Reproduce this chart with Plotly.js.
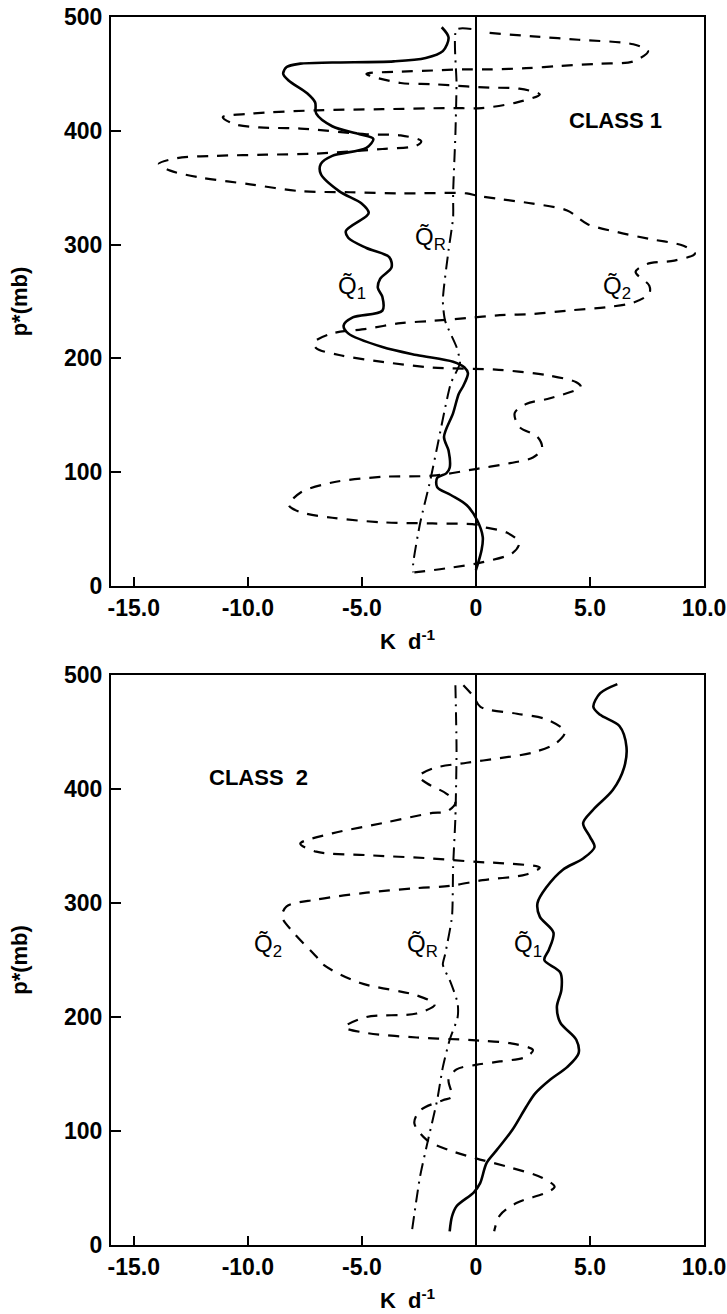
<!DOCTYPE html>
<html>
<head>
<meta charset="utf-8">
<script src="https://cdn.plot.ly/plotly-3.0.1.min.js"></script>
<style>html,body{margin:0;padding:0;background:#fff;}#chart{width:727px;height:1314px;}</style>
</head>
<body>
<div id="chart"></div>
<script>
// ---------- Data (pressure p* in mb, heating in K/day) ----------
// CLASS 1
const c1_q1_p = [491,482,470,464,461,460,459,456,450,444,433,425,415,404,397,393,385,378,371,362,347,336,328,325,312,306,297,289,280,270,262,254,242,236,229,222,210,203,197,192,187,176,169,152,131,119,104,99,95,87,80,71,58,43,32,14];
const c1_q1_v = [-1.5,-1.2,-1.45,-2.2,-3.6,-6.3,-7.7,-8.3,-8.45,-8.2,-7.4,-7.05,-7.0,-6.3,-5.1,-4.5,-4.8,-6.3,-6.8,-6.8,-6.0,-5.0,-4.7,-4.8,-5.7,-5.6,-4.8,-3.8,-3.7,-4.2,-4.3,-4.1,-4.1,-5.4,-5.8,-5.6,-4.1,-2.6,-1.0,-0.5,-0.35,-0.55,-0.75,-1.0,-1.4,-1.2,-1.15,-1.3,-1.7,-1.7,-1.1,-0.4,0.05,0.3,0.25,0];

const c1_q2_p = [486,483,480,476,470,461,459,457,455,454,454,453,452,450,442,441,439,438,437,432,425,420,420,419,418,415,412,406,403,402,397,396,391,387,384,380,379,378,376,371,365,359,353,347,346,345,345,343,340,336,330,318,311,305,299,292,286,283,276,264,257,249,245,242,239,238,236,233,231,226,222,214,209,203,197,192,190,185,179,175,165,160,152,140,131,121,113,108,103,97,96,91,82,71,65,60,56,55,54,52,47,38,29,21,16,12];
const c1_q2_v = [0.6,2.5,4.5,6.9,7.55,6.9,5.4,3.7,2.2,0.6,-0.55,-1.9,-3.3,-4.8,-3.3,-1.9,-0.4,0.6,1.9,2.8,1.8,0.25,-1.15,-4.1,-7.0,-9.9,-11.1,-10.6,-9.5,-7.7,-4.8,-3.3,-2.4,-2.6,-4.1,-7.0,-9.2,-11.4,-13.1,-13.9,-13.4,-12.1,-9.9,-7.7,-5.5,-3.3,-0.4,0.05,1.05,2.5,4.0,4.9,6.2,7.6,9.1,9.6,8.7,7.5,7.0,7.6,7.6,6.9,5.7,4.0,2.5,1.05,-0.1,-1.9,-3.3,-4.8,-6.3,-7.1,-7.0,-6.0,-4.1,-1.9,1.0,3.2,4.4,4.6,3.25,2.2,1.7,1.9,2.7,2.9,2.5,1.5,0.05,-1.9,-4.1,-6.3,-7.7,-8.2,-7.7,-6.3,-4.1,-1.9,0,0.3,1.35,1.9,1.6,0.3,-1.15,-2.7];

const c1_qr_p = [489.5,489,441,397,345,324,295,251,233,210,196,178,122,93,55,20,12];
const c1_qr_v = [-0.2,-0.85,-0.85,-0.9,-1.0,-1.0,-1.2,-1.45,-1.35,-0.85,-0.7,-1.1,-1.7,-2.0,-2.45,-2.75,-2.75];

// CLASS 2
const c2_q1_p = [492,484,472,465,455,437,419,399,382,370,358,349,339,329,314,300,288,274,259,250,239,224,209,195,180,168,156,145,133,121,101,83,72,54,46,34,25,12];
const c2_q1_v = [6.2,5.45,5.15,5.45,6.3,6.6,6.5,6.0,5.15,4.7,5.0,5.2,4.7,3.8,3.1,2.7,2.8,3.4,3.2,3.0,3.7,3.75,3.55,3.7,4.4,4.5,4.0,3.25,2.6,2.2,1.6,0.9,0.47,0.18,-0.1,-0.85,-1.05,-1.15];

const c2_q2_p = [491,481,472,466,461,450,440,432,427,423,418,411,405,396,388,380,379,370,361,352,345,342,339,336,335,331,325,320,315,313,309,303,297,288,274,253,246,230,219,211,203,200,191,186,182,180,179.5,177,171,165,161,158,154,145,130,127,118,107,92,83,76,68,59,51,46,37,26,12];
const c2_q2_v = [-0.55,-0.1,0.2,1.8,3.1,3.9,3.5,2.5,1.05,-0.4,-1.9,-2.5,-2.15,-1.3,-0.9,-1.3,-1.9,-4.1,-6.3,-7.7,-7.0,-4.8,-1.9,0.05,1.05,2.8,2.2,0.3,-1.15,-2.6,-4.8,-7.0,-8.3,-8.5,-8.0,-7.0,-6.7,-5.1,-2.6,-1.8,-2.6,-4.8,-5.75,-4.8,-2.6,-0.4,0,1.5,2.5,2.2,1.05,0,-0.85,-1.2,-1.05,-1.45,-2.45,-2.7,-2.15,-1.15,0,1.5,2.9,3.45,3.1,1.8,1.05,0.8];

const c2_qr_p = [491,434,375,332,288,255,246,230,212,200,180,156,127,92,60,13];
const c2_qr_v = [-0.9,-0.85,-0.9,-1.0,-1.05,-1.35,-1.45,-1.1,-0.8,-0.8,-1.15,-1.45,-1.7,-2.1,-2.45,-2.8];

const xTickVals = [-15,-10,-5,0,5,10];
const xTickText = ['-15.0','-10.0','-5.0','0','5.0','10.0'];
const yTickVals = [0,100,200,300,400,500];
const yTickText = ['0','100','200','300','400','500'];

// ---------- Styles ----------
const FONT = 'Liberation Sans, Arial, sans-serif';
const solid = {color:'#000', width:2.6, shape:'spline', smoothing:0.9};
const dashed = {color:'#000', width:2.2, dash:'11px,9px', shape:'spline', smoothing:0.9};
const dashdot = {color:'#000', width:2.0, dash:'13px,6px,2px,6px', shape:'spline', smoothing:0.6};

function tr(x, y, line, xa, ya){
  return {x:x, y:y, mode:'lines', line:line, xaxis:xa, yaxis:ya, hoverinfo:'skip', showlegend:false};
}
const data = [
  tr(c1_q1_v, c1_q1_p, solid, 'x', 'y'),
  tr(c1_q2_v, c1_q2_p, dashed, 'x', 'y'),
  tr(c1_qr_v, c1_qr_p, dashdot, 'x', 'y'),
  tr(c2_q1_v, c2_q1_p, solid, 'x2', 'y2'),
  tr(c2_q2_v, c2_q2_p, dashed, 'x2', 'y2'),
  tr(c2_qr_v, c2_qr_p, dashdot, 'x2', 'y2')
];

const bold = s => '<b>' + s + '</b>';
const tickfont = {family:FONT, size:23, color:'#000', weight:'bold'};
function xAxis(anchor){
  return {anchor:anchor, domain:[0,1], range:[-16,10], tickvals:xTickVals, ticktext:xTickText.map(bold),
    ticks:'inside', ticklen:9, tickwidth:2, tickcolor:'#000', showline:true, linewidth:2, linecolor:'#000',
    mirror:true, showgrid:false, zeroline:true, zerolinecolor:'#000', zerolinewidth:2,
    tickfont:tickfont, ticklabelstandoff:0,
    title:{text:'<b>K  d<sup>-1</sup></b>', font:{family:FONT, size:22, color:'#000', weight:'bold'}, standoff:14}};
}
function yAxis(anchor, domain){
  return {anchor:anchor, domain:domain, range:[0,500], tickvals:yTickVals, ticktext:yTickText.map(bold),
    ticks:'inside', ticklen:10, tickwidth:2, tickcolor:'#000', showline:true, linewidth:2, linecolor:'#000',
    mirror:true, showgrid:false, zeroline:false, tickfont:tickfont, ticklabelstandoff:2,
    title:{text:'<b>p*(mb)</b>', font:{family:FONT, size:22, color:'#000', weight:'bold'}, standoff:30}};
}

const qfont = {family:FONT, size:24, color:'#000'};
function lab(text, x, y, xr, yr, font){
  return {text:text, x:x, y:y, xref:xr, yref:yr, showarrow:false, font:font||qfont, xanchor:'center', yanchor:'middle'};
}
const boldLab = {family:FONT, size:22, color:'#000', weight:'bold'};

const layout = {
  width:727, height:1314,
  margin:{l:111, r:23, t:17, b:69},
  paper_bgcolor:'#fff', plot_bgcolor:'#fff',
  xaxis:xAxis('y'),
  yaxis:yAxis('x', [0.5366, 1]),
  xaxis2:xAxis('y2'),
  yaxis2:yAxis('x2', [0, 0.4642]),
  annotations:[
    lab('<b>CLASS 1</b>', 6.1, 409, 'x', 'y', boldLab),
    lab('Q\u0303<sub>1</sub>', -5.45, 262, 'x', 'y'),
    lab('Q\u0303<sub>R</sub>', -2.0, 305, 'x', 'y'),
    lab('Q\u0303<sub>2</sub>', 6.2, 262, 'x', 'y'),
    lab('<b>CLASS  2</b>', -9.55, 410, 'x2', 'y2', boldLab),
    lab('Q\u0303<sub>2</sub>', -9.1, 263, 'x2', 'y2'),
    lab('Q\u0303<sub>R</sub>', -2.35, 263, 'x2', 'y2'),
    lab('Q\u0303<sub>1</sub>', 2.3, 263, 'x2', 'y2')
  ]
};

Plotly.newPlot('chart', data, layout, {staticPlot:true, displayModeBar:false});
</script>
</body>
</html>
